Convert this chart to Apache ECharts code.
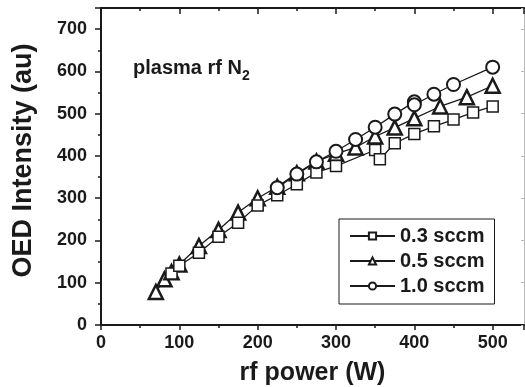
<!DOCTYPE html>
<html>
<head>
<meta charset="utf-8">
<script src="https://cdn.jsdelivr.net/npm/echarts@6/dist/echarts.min.js"></script>
<style>
html,body{margin:0;padding:0;background:#fff;}
#c{width:525px;height:387px;}
</style>
</head>
<body>
<div id="c"></div>
<script>
// Data
const seriesNames = ['0.3 sccm', '0.5 sccm', '1.0 sccm'];
const sqPower = [90,100,125,150,175,200,225,250,275,300,350,356,375,400,425,450,475,500];
const sqInt   = [122,140,171,209,242,283,307,333,361,376,414,392,430,452,470,486,503,517];
const triPower = [70,81,90,100,125,150,175,200,225,250,275,300,325,350,375,400,433,467,500];
const triInt   = [78,108,125,143,187,225,266,300,327,359,387,405,420,446,467,489,517,539,566];
const cirPower = [225,250,275,300,325,350,375,400,400,425,450,500];
const cirInt   = [325,357,386,411,439,468,499,528,521,546,569,610];
const xTicks = [0,100,200,300,400,500];
const yTicks = [0,100,200,300,400,500,600,700];

const pair = (xs, ys) => xs.map((x, i) => [x, ys[i]]);
const FONT = '"Liberation Sans", Arial, Helvetica, sans-serif';

const chart = echarts.init(document.getElementById('c'), null, {renderer: 'canvas'});

const axisLine = {show: true, onZero: false, lineStyle: {color: '#1a1a1a', width: 2}};
const lblStyle = {color: '#1a1a1a', fontFamily: FONT, fontWeight: 'bold', fontSize: 18};

function mkSeries(name, data, symbol, size, bw, z) {
  return {
    name, type: 'line', data, symbol, symbolSize: size, z,
    showSymbol: true,
    lineStyle: {color: '#1a1a1a', width: 1.3},
    itemStyle: {color: '#ffffff', borderColor: '#1a1a1a', borderWidth: bw},
    emphasis: {disabled: true},
    animation: false
  };
}

chart.setOption({
  animation: false,
  backgroundColor: '#ffffff',
  grid: {left: 101, right: 1, top: 8, bottom: 62, containLabel: false, outerBoundsMode: 'none'},
  xAxis: [{
    type: 'value', min: 0, max: 540, interval: 100, position: 'bottom',
    name: 'rf power (W)', nameLocation: 'middle', nameGap: 36,
    nameTextStyle: {color: '#1a1a1a', fontFamily: FONT, fontWeight: 'bold', fontSize: 25},
    axisLine,
    axisTick: {show: true, inside: false, length: 5, lineStyle: {color: '#1a1a1a', width: 1.5}},
    minorTick: {show: true, splitNumber: 2, length: 3, lineStyle: {color: '#1a1a1a', width: 1.5}},
    axisLabel: Object.assign({margin: 9, showMaxLabel: false,
      formatter: v => xTicks.includes(v) ? String(v) : ''}, lblStyle),
    splitLine: {show: false}
  }, {
    type: 'value', min: 0, max: 540, interval: 100, position: 'top',
    axisLine,
    axisTick: {show: true, inside: true, length: 6, lineStyle: {color: '#1a1a1a', width: 1.5}},
    minorTick: {show: true, splitNumber: 2, length: 3, lineStyle: {color: '#1a1a1a', width: 1.5}},
    axisLabel: {show: false}, splitLine: {show: false}
  }],
  yAxis: [{
    type: 'value', min: 0, max: 750, interval: 100, position: 'left',
    name: 'OED Intensity (au)', nameLocation: 'middle', nameGap: 64,
    nameTextStyle: {color: '#1a1a1a', fontFamily: FONT, fontWeight: 'bold', fontSize: 27, padding: [0, 0, 0, 12]},
    axisLine,
    axisTick: {show: true, inside: false, length: 6, lineStyle: {color: '#1a1a1a', width: 1.5}},
    minorTick: {show: true, splitNumber: 2, length: 3, lineStyle: {color: '#1a1a1a', width: 1.5}},
    axisLabel: Object.assign({margin: 14, showMaxLabel: false,
      formatter: v => yTicks.includes(v) ? String(v) : ''}, lblStyle),
    splitLine: {show: false}
  }, {
    type: 'value', min: 0, max: 750, interval: 100, position: 'right',
    axisLine: {show: true, onZero: false, lineStyle: {color: '#bbbbbb', width: 1}},
    axisTick: {show: true, inside: true, length: 3, lineStyle: {color: '#bbbbbb', width: 1}},
    axisLabel: {show: false}, splitLine: {show: false}
  }],
  legend: {
    orient: 'vertical', left: 339, top: 219,
    data: seriesNames,
    itemWidth: 45, itemHeight: 9, itemGap: 5,
    padding: [7, 10, 8, 10],
    borderColor: '#1a1a1a', borderWidth: 1, backgroundColor: '#ffffff',
    textStyle: {color: '#1a1a1a', fontFamily: FONT, fontWeight: 'bold', fontSize: 20},
    selectedMode: false
  },
  graphic: [
    {type: 'text', left: 133, top: 58, z: 10,
     style: {
       text: '{a|plasma rf N}{b|2}',
       rich: {
         a: {fill: '#1a1a1a', font: 'bold 20px ' + FONT, verticalAlign: 'bottom', lineHeight: 26},
         b: {fill: '#1a1a1a', font: 'bold 14px ' + FONT, verticalAlign: 'bottom', lineHeight: 14, padding: [0, 0, -5, 0]}
       }
     }}
  ],
  series: [
    mkSeries(seriesNames[0], pair(sqPower, sqInt), 'rect', 11, 1.5, 3),
    mkSeries(seriesNames[1], pair(triPower, triInt), 'triangle', 14, 2.5, 2),
    mkSeries(seriesNames[2], pair(cirPower, cirInt), 'circle', 13, 2, 4)
  ]
});
</script>
</body>
</html>
